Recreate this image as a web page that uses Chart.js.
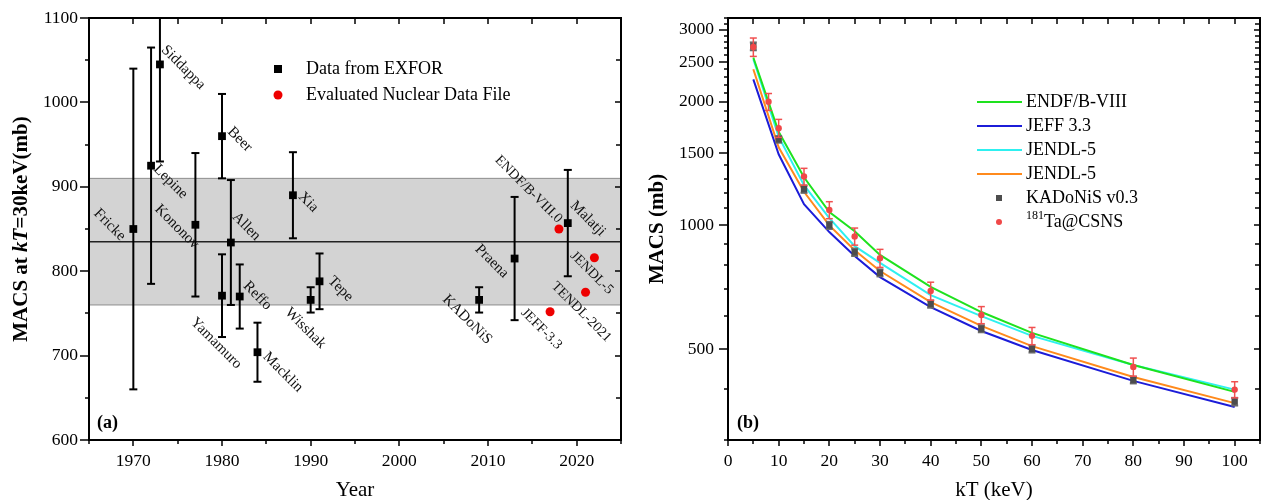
<!DOCTYPE html>
<html>
<head>
<meta charset="utf-8">
<script src="https://cdn.jsdelivr.net/npm/chart.js@4.4.1/dist/chart.umd.min.js"></script>
<style>
    body { margin: 0; background: #fff; width: 1270px; height: 500px; position: relative; overflow: hidden; }
    canvas { position: absolute; top: 0; }
    #chartA { left: 0; }
    #chartB { left: 635px; }
</style>
</head>
<body>
<canvas id="chartA" width="635" height="500"></canvas>
<canvas id="chartB" width="635" height="500"></canvas>
<script>
// =============================
// DATOS - panel (a)
// =============================
const exforNames = ["Fricke", "Lepine", "Siddappa", "Kononov", "Beer", "Yamamuro", "Allen", "Reffo",
                    "Macklin", "Xia", "Wisshak", "Tepe", "KADoNiS", "Praena", "Malatji"];
const exforYears = [1970, 1972, 1973, 1977, 1980, 1980, 1981, 1982, 1984, 1988, 1990, 1991, 2009, 2013, 2019];
const exforMacs  = [850, 925, 1045, 855, 960, 771, 834, 770, 704, 890, 766, 788, 766, 815, 857];
const exforErr   = [190, 140, 115, 85, 50, 49, 74, 38, 35, 51, 15, 33, 15, 73, 63];

const evalNames = ["JEFF-3.3", "ENDF/B-VIII.0", "TENDL-2021", "JENDL-5"];
const evalYears = [2017, 2018, 2021, 2022];
const evalMacs  = [752, 850, 775, 816];

const bandLow = 760;
const bandHigh = 910;
const bandMean = 835;

const yearTicks = [1970, 1980, 1990, 2000, 2010, 2020];
const macsTicksA = [600, 700, 800, 900, 1000, 1100];

// =============================
// DATOS - panel (b)
// =============================
const ktLine  = [5, 10, 15, 20, 25, 30, 40, 50, 60, 80, 100];
const endfB8  = [2564, 1690, 1310, 1077, 968, 847, 708, 615, 547, 457, 393];
const jeff33  = [2268, 1490, 1126, 963, 842, 748, 632, 553, 497, 418, 361];
const jendl5c = [2540, 1645, 1253, 1041, 890, 810, 676, 601, 538, 457, 398];
const jendl5o = [2400, 1549, 1207, 1000, 870, 774, 650, 569, 508, 427, 369];

const ktKad   = [5, 10, 15, 20, 25, 30, 40, 50, 60, 80, 100];
const kadMacs = [2730, 1620, 1225, 1000, 860, 766, 643, 560, 500, 420, 372];
const kadErr  = [60, 30, 25, 20, 18, 15, 13, 11, 10, 8, 8];

const ktCsns   = [5, 8, 10, 15, 20, 25, 30, 40, 50, 60, 80, 100];
const csnsMacs = [2720, 2000, 1725, 1315, 1090, 940, 832, 692, 605, 538, 452, 398];
const csnsErr  = [140, 95, 87, 62, 52, 45, 42, 35, 29, 26, 23, 18];

const kTTicks = [0, 10, 20, 30, 40, 50, 60, 70, 80, 90, 100];
const macsTicksB = [500, 1000, 1500, 2000, 2500, 3000];

// desplazamiento de las etiquetas (px) respecto al punto
const exforLabelOff = [[-37, -19], [5, 0], [4, -18], [-38, -19], [8, -8], [-29, 23], [4, -29], [6, -14],
                       [8, 1], [8, -2], [-23, 9], [11, -4], [-34, -4], [-37, -13], [5, -21]];
const evalLabelOff = [[-27, -2], [-62, -72], [-32, -9], [-22, -5]];

const SERIF = "'Liberation Serif', 'Times New Roman', serif";
Chart.defaults.font.family = SERIF;
Chart.defaults.color = "#000";

function line(ctx, x1, y1, x2, y2) {
    ctx.beginPath();
    ctx.moveTo(x1, y1);
    ctx.lineTo(x2, y2);
    ctx.stroke();
}

function range(a, b, step) {
    const out = [];
    for (let v = a; v <= b; v += step) out.push(v);
    return out;
}

// ancho fijo del eje y, sin relleno extra por las etiquetas
function fitY(width) {
    return s => {
        s.width = width;
        s.paddingTop = 0;
        s.paddingBottom = 0;
    };
}

// =============================
// PLUGINS
// =============================
function makeFrame(cfg) {
    return {
        id: "frame",
        afterDraw(chart) {
            const { ctx, chartArea: a } = chart;
            const x = chart.scales.x, y = chart.scales.y;
            ctx.save();
            ctx.strokeStyle = "#000";
            ctx.lineWidth = 1.5;
            cfg.xTicks.forEach(v => {
                const px = Math.round(x.getPixelForValue(v));
                const big = cfg.xMajor.includes(v);
                line(ctx, px, a.bottom, px, a.bottom + (big ? 6 : 4));
                line(ctx, px, a.top, px, a.top + 6);
            });
            cfg.yTicks.forEach(v => {
                const py = Math.round(y.getPixelForValue(v));
                const big = cfg.yMajor.includes(v);
                line(ctx, a.left - (big ? 9 : 4), py, a.left, py);
                line(ctx, a.right, py, a.right - (big ? 6 : 5), py);
            });
            ctx.lineWidth = 2;
            ctx.strokeRect(a.left, a.top, a.right - a.left, a.bottom - a.top);
            ctx.restore();
        }
    };
}

function makeErrorBars(cfg) {
    return {
        id: "errorBars",
        beforeDatasetDraw(chart, args) {
            const c = cfg[args.index];
            if (!c) return;
            const { ctx, chartArea: a } = chart;
            const x = chart.scales.x, y = chart.scales.y;
            const ds = chart.data.datasets[args.index];
            ctx.save();
            ctx.beginPath();
            ctx.rect(a.left, a.top - 1, a.right - a.left, a.bottom - a.top + 2);
            ctx.clip();
            ctx.strokeStyle = c.color;
            ctx.lineWidth = c.width;
            ds.data.forEach((p, i) => {
                const px = x.getPixelForValue(p.x);
                const top = y.getPixelForValue(p.y + c.err[i]);
                const bot = y.getPixelForValue(p.y - c.err[i]);
                line(ctx, px, top, px, bot);
                line(ctx, px - c.cap, top, px + c.cap, top);
                line(ctx, px - c.cap, bot, px + c.cap, bot);
            });
            ctx.restore();
        }
    };
}

function drawYTitle(ctx, parts, cx, cy) {
    ctx.save();
    ctx.translate(cx, cy);
    ctx.rotate(-Math.PI / 2);
    ctx.textBaseline = "middle";
    ctx.textAlign = "left";
    let total = 0;
    parts.forEach(p => { ctx.font = p.font; total += ctx.measureText(p.text).width; });
    let xpos = -total / 2;
    parts.forEach(p => {
        ctx.font = p.font;
        ctx.fillText(p.text, xpos, 0);
        xpos += ctx.measureText(p.text).width;
    });
    ctx.restore();
}

// =============================
// PANEL (a)
// =============================
const panelA = {
    id: "panelA",
    beforeDatasetsDraw(chart) {
        const { ctx, chartArea: a } = chart;
        const y = chart.scales.y;
        const yTop = y.getPixelForValue(bandHigh);
        const yBot = y.getPixelForValue(bandLow);
        ctx.save();
        ctx.fillStyle = "#d3d3d3";
        ctx.fillRect(a.left, yTop, a.right - a.left, yBot - yTop);
        ctx.strokeStyle = "#8c8c8c";
        ctx.lineWidth = 1;
        line(ctx, a.left, yTop, a.right, yTop);
        line(ctx, a.left, yBot, a.right, yBot);
        ctx.strokeStyle = "#222";
        ctx.lineWidth = 1.5;
        const ym = y.getPixelForValue(bandMean);
        line(ctx, a.left, ym, a.right, ym);
        ctx.restore();
    },
    afterDatasetsDraw(chart) {
        const { ctx, chartArea: a } = chart;
        const x = chart.scales.x, y = chart.scales.y;
        ctx.save();
        ctx.fillStyle = "#111";
        ctx.textAlign = "left";
        ctx.textBaseline = "top";
        const put = (name, xv, yv, off, size) => {
            ctx.save();
            ctx.font = size + "px " + SERIF;
            ctx.translate(x.getPixelForValue(xv) + off[0] + 5, y.getPixelForValue(yv) + off[1] - 4);
            ctx.rotate(Math.PI / 4);
            ctx.fillText(name, 0, 0);
            ctx.restore();
        };
        exforNames.forEach((n, i) => put(n, exforYears[i], exforMacs[i], exforLabelOff[i], 15));
        evalNames.forEach((n, i) => put(n, evalYears[i], evalMacs[i], evalLabelOff[i], 14));

        // leyenda
        ctx.font = "18px " + SERIF;
        ctx.textBaseline = "middle";
        ctx.fillStyle = "#000";
        ctx.fillRect(a.left + 185, a.top + 47, 8, 8);
        ctx.fillText("Data from EXFOR", a.left + 217, a.top + 51);
        ctx.fillStyle = "#ee0000";
        ctx.beginPath();
        ctx.arc(a.left + 189, a.top + 77, 4.5, 0, Math.PI * 2);
        ctx.fill();
        ctx.fillStyle = "#000";
        ctx.fillText("Evaluated Nuclear Data File", a.left + 217, a.top + 77);

        // (a)
        ctx.font = "bold 18px " + SERIF;
        ctx.fillText("(a)", a.left + 8, a.bottom - 17);

        // titulos
        ctx.font = "21px " + SERIF;
        ctx.textAlign = "center";
        ctx.fillText("Year", (a.left + a.right) / 2, a.bottom + 50);
        ctx.restore();

        drawYTitle(ctx, [
            { text: "MACS at ", font: "bold 21px " + SERIF },
            { text: "kT", font: "italic bold 21px " + SERIF },
            { text: "=30keV(mb)", font: "bold 21px " + SERIF }
        ], 22, (a.top + a.bottom) / 2);
    }
};

new Chart(document.getElementById("chartA"), {
    type: "scatter",
    data: {
        datasets: [
            {
                label: "Data from EXFOR",
                data: exforYears.map((yr, i) => ({ x: yr, y: exforMacs[i] })),
                pointStyle: "rect",
                pointRadius: 5.5,
                backgroundColor: "#000",
                borderColor: "#000",
                borderWidth: 0,
                order: 2
            },
            {
                label: "Evaluated Nuclear Data File",
                data: evalYears.map((yr, i) => ({ x: yr, y: evalMacs[i] })),
                pointStyle: "circle",
                pointRadius: 4.5,
                backgroundColor: "#ee0000",
                borderColor: "#ee0000",
                borderWidth: 0,
                order: 1
            }
        ]
    },
    options: {
        responsive: false,
        animation: false,
        events: [],
        layout: { padding: { left: 0, right: 14, top: 18, bottom: 0 } },
        plugins: { legend: { display: false }, tooltip: { enabled: false } },
        scales: {
            x: {
                type: "linear",
                min: 1965,
                max: 2025,
                grid: { display: false, drawTicks: false },
                border: { display: false },
                afterBuildTicks: s => { s.ticks = yearTicks.map(v => ({ value: v })); },
                afterFit: s => { s.height = 60; },
                ticks: { padding: 11, font: { size: 17.5 }, maxRotation: 0, callback: v => String(v) }
            },
            y: {
                type: "linear",
                min: 600,
                max: 1100,
                grid: { display: false, drawTicks: false },
                border: { display: false },
                afterBuildTicks: s => { s.ticks = macsTicksA.map(v => ({ value: v })); },
                afterFit: fitY(89),
                ticks: { padding: 11, font: { size: 17.5 }, callback: v => String(v) }
            }
        }
    },
    plugins: [
        panelA,
        makeErrorBars({ 0: { err: exforErr, color: "#000", width: 2, cap: 4 } }),
        makeFrame({
            xTicks: range(1965, 2025, 5), xMajor: yearTicks,
            yTicks: range(600, 1100, 50), yMajor: macsTicksA
        })
    ]
});

// =============================
// PANEL (b)
// =============================
const panelB = {
    id: "panelB",
    afterDatasetsDraw(chart) {
        const { ctx, chartArea: a } = chart;
        const dss = chart.data.datasets;
        ctx.save();
        ctx.font = "18px " + SERIF;
        ctx.textBaseline = "middle";
        ctx.textAlign = "left";
        const lx = a.left + 249;
        const tx = a.left + 298;
        dss.forEach((ds, i) => {
            const ly = a.top + 84 + i * 24;
            if (ds.showLine) {
                ctx.strokeStyle = ds.borderColor;
                ctx.lineWidth = 2;
                line(ctx, lx, ly, lx + 45, ly);
            } else if (ds.pointStyle === "rect") {
                ctx.fillStyle = ds.backgroundColor;
                ctx.fillRect(lx + 19, ly - 3, 6, 6);
            } else {
                ctx.fillStyle = ds.backgroundColor;
                ctx.beginPath();
                ctx.arc(lx + 22, ly, 3, 0, Math.PI * 2);
                ctx.fill();
            }
            ctx.fillStyle = "#000";
            if (ds.label === "181Ta@CSNS") {
                ctx.font = "12px " + SERIF;
                ctx.fillText("181", tx, ly - 6);
                const w = ctx.measureText("181").width;
                ctx.font = "18px " + SERIF;
                ctx.fillText("Ta@CSNS", tx + w, ly);
            } else {
                ctx.fillText(ds.label, tx, ly);
            }
        });

        ctx.font = "bold 18px " + SERIF;
        ctx.fillText("(b)", a.left + 9, a.bottom - 17);

        ctx.font = "21px " + SERIF;
        ctx.textAlign = "center";
        ctx.fillText("kT (keV)", (a.left + a.right) / 2, a.bottom + 50);
        ctx.restore();

        drawYTitle(ctx, [{ text: "MACS (mb)", font: "bold 21px " + SERIF }], 23, (a.top + a.bottom) / 2);
    }
};

const toPts = (xs, ys) => xs.map((k, i) => ({ x: k, y: ys[i] }));
const lineDs = (label, ys, color) => ({
    label: label,
    data: toPts(ktLine, ys),
    showLine: true,
    pointRadius: 0,
    borderColor: color,
    backgroundColor: color,
    borderWidth: 2,
    tension: 0,
    order: 5
});

new Chart(document.getElementById("chartB"), {
    type: "scatter",
    data: {
        datasets: [
            lineDs("ENDF/B-VIII", endfB8, "#1ee21e"),
            lineDs("JEFF 3.3", jeff33, "#1c1cd8"),
            lineDs("JENDL-5", jendl5c, "#2ef0f0"),
            lineDs("JENDL-5", jendl5o, "#ff8a1c"),
            {
                label: "KADoNiS v0.3",
                data: toPts(ktKad, kadMacs),
                pointStyle: "rect",
                pointRadius: 4.5,
                backgroundColor: "#4d4d4d",
                borderWidth: 0,
                order: 2
            },
            {
                label: "181Ta@CSNS",
                data: toPts(ktCsns, csnsMacs),
                pointStyle: "circle",
                pointRadius: 3.2,
                backgroundColor: "#f04848",
                borderWidth: 0,
                order: 1
            }
        ]
    },
    options: {
        responsive: false,
        animation: false,
        events: [],
        layout: { padding: { left: 0, right: 10, top: 18, bottom: 0 } },
        plugins: { legend: { display: false }, tooltip: { enabled: false } },
        scales: {
            x: {
                type: "linear",
                min: 0,
                max: 105,
                grid: { display: false, drawTicks: false },
                border: { display: false },
                afterBuildTicks: s => { s.ticks = kTTicks.map(v => ({ value: v })); },
                afterFit: s => { s.height = 60; },
                ticks: { padding: 11, font: { size: 17.5 }, maxRotation: 0, callback: v => String(v) }
            },
            y: {
                type: "logarithmic",
                min: 300,
                max: 3200,
                grid: { display: false, drawTicks: false },
                border: { display: false },
                afterBuildTicks: s => { s.ticks = macsTicksB.map(v => ({ value: v })); },
                afterFit: fitY(93),
                ticks: { padding: 14, font: { size: 17.5 }, callback: v => String(v) }
            }
        }
    },
    plugins: [
        panelB,
        makeErrorBars({
            4: { err: kadErr, color: "#6a6a6a", width: 2, cap: 3.5 },
            5: { err: csnsErr, color: "#f05050", width: 1.5, cap: 3.5 }
        }),
        makeFrame({
            xTicks: range(0, 105, 5), xMajor: kTTicks,
            yTicks: range(300, 3200, 100), yMajor: macsTicksB
        })
    ]
});
</script>
</body>
</html>
